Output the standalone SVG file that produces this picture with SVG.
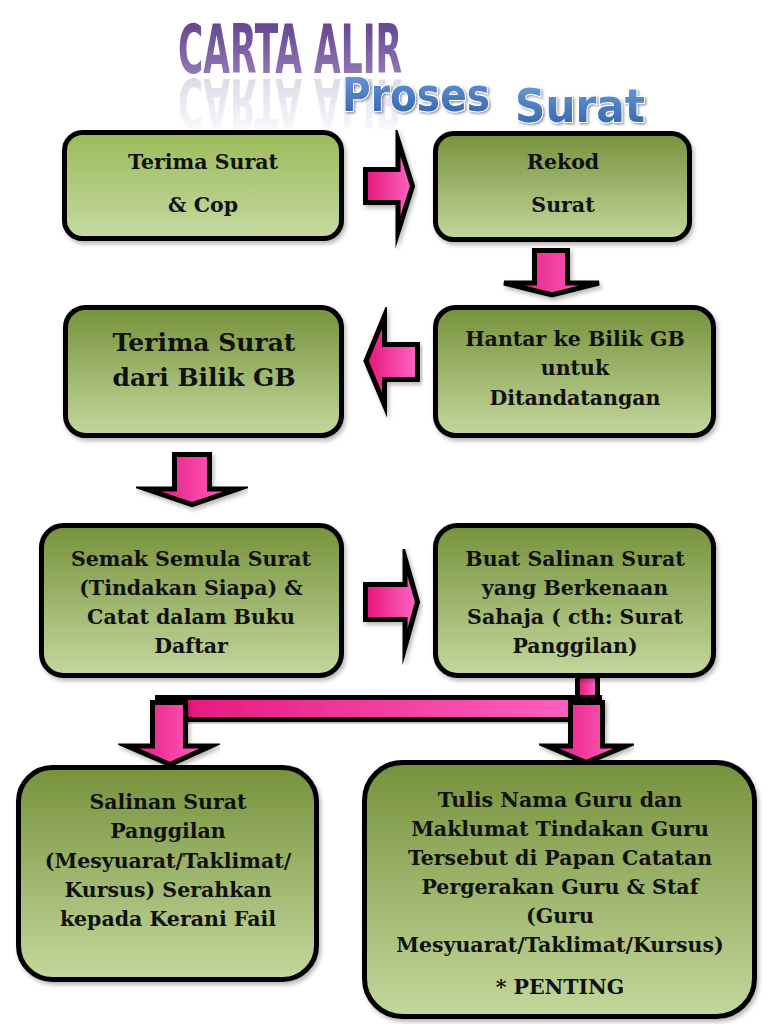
<svg xmlns="http://www.w3.org/2000/svg" width="768" height="1024" viewBox="0 0 768 1024">
<defs>
<linearGradient id="gBox" x1="0" y1="0" x2="0" y2="1">
<stop offset="0" stop-color="#76923C"/>
<stop offset="1" stop-color="#C4D79C"/>
</linearGradient>
<linearGradient id="gBox1" x1="0" y1="0" x2="0" y2="1">
<stop offset="0" stop-color="#9BBB59"/>
<stop offset="1" stop-color="#C6D9A1"/>
</linearGradient>
<linearGradient id="gPink" x1="0" y1="0" x2="1" y2="0">
<stop offset="0" stop-color="#E5157A"/>
<stop offset="1" stop-color="#FF66C4"/>
</linearGradient>
<linearGradient id="gPurple" x1="0" y1="0" x2="0" y2="1">
<stop offset="0" stop-color="#5A3A86"/>
<stop offset="1" stop-color="#9E86C2"/>
</linearGradient>
<linearGradient id="gRefl" x1="0" y1="0" x2="0" y2="1">
<stop offset="0" stop-color="#8D7AAE" stop-opacity="0"/>
<stop offset="1" stop-color="#8D7AAE" stop-opacity="0.35"/>
</linearGradient>
<linearGradient id="gBlue" x1="0" y1="0" x2="0" y2="1">
<stop offset="0" stop-color="#6F9FDD"/>
<stop offset="1" stop-color="#2E5EA8"/>
</linearGradient>
<filter id="sh" x="-10%" y="-10%" width="120%" height="130%">
<feDropShadow dx="2" dy="3" stdDeviation="2" flood-color="#000" flood-opacity="0.28"/>
</filter>
<filter id="tsh" x="-10%" y="-20%" width="120%" height="150%">
<feDropShadow dx="1.5" dy="1.5" stdDeviation="1" flood-color="#444" flood-opacity="0.55"/>
</filter>
</defs>
<style>
.box{stroke:#000;stroke-width:5;filter:url(#sh)}
.arr{fill:url(#gPink);stroke:#000;stroke-width:5;stroke-linejoin:miter;stroke-miterlimit:8;filter:url(#sh)}
.t{font-family:"DejaVu Serif","Liberation Serif",serif;font-weight:bold;font-size:20.5px;fill:#111;text-anchor:middle}
.tb{font-size:25px}
.ps{font-family:"DejaVu Sans",sans-serif;font-weight:bold;font-size:46px;fill:url(#gBlue);stroke:#fff;stroke-width:2;paint-order:stroke;filter:url(#tsh)}
</style>
<rect width="768" height="1024" fill="#fff"/>

<g id="title">
<text x="178" y="73" font-family="DejaVu Sans Condensed,DejaVu Sans,sans-serif" font-stretch="condensed" font-weight="bold" font-size="68" textLength="224" lengthAdjust="spacingAndGlyphs" fill="url(#gPurple)">CARTA ALIR</text>
<text x="178" y="73" transform="translate(0,152) scale(1,-1)" font-family="DejaVu Sans Condensed,DejaVu Sans,sans-serif" font-stretch="condensed" font-weight="bold" font-size="68" textLength="224" lengthAdjust="spacingAndGlyphs" fill="url(#gRefl)">CARTA ALIR</text>
<text class="ps" x="342" y="111" textLength="148" lengthAdjust="spacingAndGlyphs">Proses</text>
<text class="ps" x="515" y="122" textLength="130" lengthAdjust="spacingAndGlyphs">Surat</text>
</g>

<g id="connectors">
<polygon id="a1" class="arr" points="365.5,169.5 398,169.5 398,140 412.5,186 398,232 398,202.5 365.5,202.5"/>
<polygon id="a2" class="arr" points="534.5,250.5 567.5,250.5 567.5,283 599,283 552,295 504,283 534.5,283"/>
<polygon id="a3" class="arr" points="417.5,344.5 384.5,344.5 384.5,316 366,361 384.5,405 384.5,379.5 417.5,379.5"/>
<polygon id="a4" class="arr" points="174.5,454.5 209.5,454.5 209.5,489 238,489 192,504.5 146,489 174.5,489"/>
<polygon id="a5" class="arr" points="365.5,584.5 405,584.5 405,558 417.5,602 405,647 405,619.5 365.5,619.5"/>
<rect id="a6stub" class="arr" x="577.5" y="676" width="20" height="22"/>
<rect id="a6bar" class="arr" x="157.5" y="697.5" width="442" height="22"/>
<polygon id="a6l" class="arr" points="152.5,702.5 185.5,702.5 185.5,746 211,746 170,764.5 127,746 152.5,746"/>
<polygon id="a6r" class="arr" points="570.5,702.5 602.5,702.5 602.5,746 626,746 586,762.5 547,746 570.5,746"/>
</g>

<g id="n1">
<rect class="box" x="64.5" y="132.5" width="277" height="106" rx="18" fill="url(#gBox1)"/>
<text class="t" x="203" y="169">Terima Surat</text>
<text class="t" x="203" y="212">&amp; Cop</text>
</g>
<g id="n2">
<rect class="box" x="435.5" y="133.5" width="254" height="106" rx="18" fill="url(#gBox)"/>
<text class="t" x="563" y="169">Rekod</text>
<text class="t" x="563" y="212">Surat</text>
</g>
<g id="n3">
<rect class="box" x="65.5" y="307.5" width="276" height="128" rx="20" fill="url(#gBox)"/>
<text class="t tb" x="204" y="351">Terima Surat</text>
<text class="t tb" x="204" y="386">dari Bilik GB</text>
</g>
<g id="n4">
<rect class="box" x="435.5" y="307.5" width="278" height="128" rx="20" fill="url(#gBox)"/>
<text class="t" x="575" y="346">Hantar ke Bilik GB</text>
<text class="t" x="575" y="375">untuk</text>
<text class="t" x="575" y="405">Ditandatangan</text>
</g>
<g id="n5">
<rect class="box" x="41.5" y="525.5" width="300" height="150" rx="22" fill="url(#gBox)"/>
<text class="t" x="191" y="566">Semak Semula Surat</text>
<text class="t" x="191" y="595">(Tindakan Siapa) &amp;</text>
<text class="t" x="191" y="624">Catat dalam Buku</text>
<text class="t" x="191" y="653">Daftar</text>
</g>
<g id="n6">
<rect class="box" x="435.5" y="525.5" width="278" height="150" rx="22" fill="url(#gBox)"/>
<text class="t" x="575" y="566">Buat Salinan Surat</text>
<text class="t" x="575" y="595">yang Berkenaan</text>
<text class="t" x="575" y="624">Sahaja ( cth: Surat</text>
<text class="t" x="575" y="653">Panggilan)</text>
</g>
<g id="n7">
<rect class="box" x="18.5" y="767.5" width="298" height="212" rx="34" fill="url(#gBox)"/>
<text class="t" x="168" y="809">Salinan Surat</text>
<text class="t" x="168" y="838">Panggilan</text>
<text class="t" x="168" y="868">(Mesyuarat/Taklimat/</text>
<text class="t" x="168" y="897">Kursus) Serahkan</text>
<text class="t" x="168" y="926">kepada Kerani Fail</text>
</g>
<g id="n8">
<rect class="box" x="364.5" y="762.5" width="390" height="254" rx="38" fill="url(#gBox)"/>
<text class="t" x="560" y="807">Tulis Nama Guru dan</text>
<text class="t" x="560" y="836">Maklumat Tindakan Guru</text>
<text class="t" x="560" y="865">Tersebut di Papan Catatan</text>
<text class="t" x="560" y="894">Pergerakan Guru &amp; Staf</text>
<text class="t" x="560" y="923">(Guru</text>
<text class="t" x="560" y="952">Mesyuarat/Taklimat/Kursus)</text>
<text class="t" x="560" y="994">* PENTING</text>
</g>
</svg>
